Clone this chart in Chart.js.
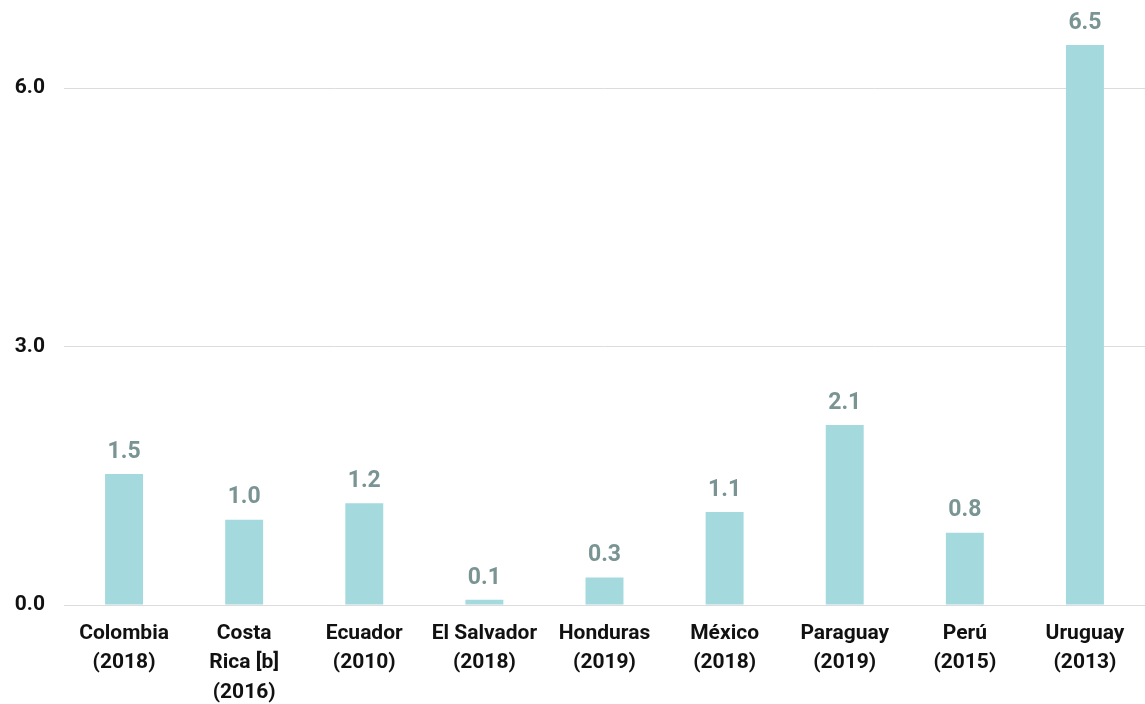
<!DOCTYPE html>
<html>
<head>
<meta charset="utf-8">
<script src="https://cdn.jsdelivr.net/npm/chart.js@4/dist/chart.umd.min.js"></script>
<style>
  html, body { margin: 0; padding: 0; background: #fff; }
  #wrap { width: 1145px; height: 704px; }
</style>
</head>
<body>
<div id="wrap"><canvas id="myChart"></canvas></div>
<script>
const countries = [
  ["Colombia", "(2018)"],
  ["Costa", "Rica [b]", "(2016)"],
  ["Ecuador", "(2010)"],
  ["El Salvador", "(2018)"],
  ["Honduras", "(2019)"],
  ["México", "(2018)"],
  ["Paraguay", "(2019)"],
  ["Perú", "(2015)"],
  ["Uruguay", "(2013)"]
];
const values = [1.52, 0.99, 1.18, 0.06, 0.32, 1.08, 2.09, 0.84, 6.5];
const yTicks = [0, 3, 6];

const barColor = "#a4dadd";
const labelColor = "#7a9494";
const gridColor = "#dcdcdc";
const textColor = "#111111";

Chart.defaults.font.family = "Roboto, 'DejaVu Sans', sans-serif";
Chart.defaults.font.weight = "bold";
Chart.defaults.color = textColor;

// draws the value above each bar
const valueLabels = {
  id: "valueLabels",
  afterDatasetsDraw(chart) {
    const ctx = chart.ctx;
    const meta = chart.getDatasetMeta(0);
    ctx.save();
    ctx.font = "bold 23px Roboto, 'DejaVu Sans', sans-serif";
    ctx.fillStyle = labelColor;
    ctx.textAlign = "center";
    ctx.textBaseline = "middle";
    meta.data.forEach((bar, i) => {
      ctx.fillText(values[i].toFixed(1), bar.x, bar.y - 22);
    });
    ctx.restore();
  }
};

const ctx = document.getElementById("myChart").getContext("2d");
new Chart(ctx, {
  type: "bar",
  data: {
    labels: countries,
    datasets: [{
      data: values,
      backgroundColor: barColor,
      barPercentage: 0.316,
      categoryPercentage: 1.0
    }]
  },
  options: {
    responsive: true,
    maintainAspectRatio: false,
    animation: false,
    layout: { padding: { top: 2, right: -6, bottom: 0, left: 0 } },
    plugins: {
      legend: { display: false },
      tooltip: { enabled: false }
    },
    scales: {
      x: {
        grid: { display: false, drawTicks: false },
        border: { display: true, color: gridColor, width: 1 },
        ticks: {
          font: { size: 21, weight: "bold", lineHeight: 1.4 },
          color: textColor,
          padding: 14,
          maxRotation: 0,
          autoSkip: false
        },
        afterFit: s => { s.height = 99; s.paddingLeft = 0; s.paddingRight = 0; }
      },
      y: {
        min: 0,
        max: 7,
        afterBuildTicks: s => { s.ticks = yTicks.map(v => ({ value: v })); },
        grid: { color: gridColor, drawTicks: false },
        border: { display: false },
        ticks: {
          font: { size: 21, weight: "bold" },
          color: textColor,
          padding: 19,
          callback: v => v.toFixed(1)
        },
        afterFit: s => { s.width = 64; s.paddingTop = 0; s.paddingBottom = 0; }
      }
    }
  },
  plugins: [valueLabels]
});
</script>
</body>
</html>
